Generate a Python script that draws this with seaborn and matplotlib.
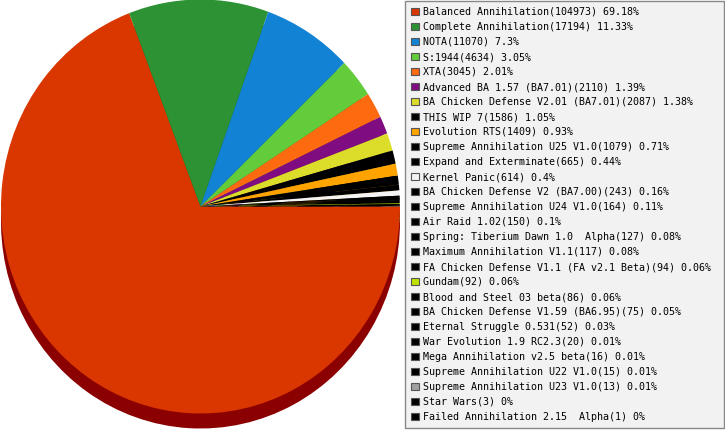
import numpy as np
import matplotlib
matplotlib.use("Agg")
import matplotlib.pyplot as plt
from matplotlib.patches import Patch
import matplotlib.colors as mcolors
import seaborn as sns

names = [
    "Balanced Annihilation", "Complete Annihilation", "NOTA", "S:1944", "XTA",
    "Advanced BA 1.57 (BA7.01)", "BA Chicken Defense V2.01 (BA7.01)", "THIS WIP 7",
    "Evolution RTS", "Supreme Annihilation U25 V1.0", "Expand and Exterminate",
    "Kernel Panic", "BA Chicken Defense V2 (BA7.00)", "Supreme Annihilation U24 V1.0",
    "Air Raid 1.02", "Spring: Tiberium Dawn 1.0  Alpha", "Maximum Annihilation V1.1",
    "FA Chicken Defense V1.1 (FA v2.1 Beta)", "Gundam", "Blood and Steel 03 beta",
    "BA Chicken Defense V1.59 (BA6.95)", "Eternal Struggle 0.531", "War Evolution 1.9 RC2.3",
    "Mega Annihilation v2.5 beta", "Supreme Annihilation U22 V1.0",
    "Supreme Annihilation U23 V1.0", "Star Wars", "Failed Annihilation 2.15  Alpha",
]
counts = [104973, 17194, 11070, 4634, 3045, 2110, 2087, 1586, 1409, 1079, 665, 614,
          243, 164, 150, 127, 117, 94, 92, 86, 75, 52, 20, 16, 15, 13, 3, 1]
pcts = ["69.18", "11.33", "7.3", "3.05", "2.01", "1.39", "1.38", "1.05", "0.93", "0.71",
        "0.44", "0.4", "0.16", "0.11", "0.1", "0.08", "0.08", "0.06", "0.06", "0.06",
        "0.05", "0.03", "0.01", "0.01", "0.01", "0.01", "0", "0"]
colors = ["#d93600", "#2d9234", "#1283d4", "#62cc3a", "#fd6a10", "#7f0c80", "#dcdd2a",
          "#000000", "#ffa300", "#000000", "#000000", "#f4f4f4", "#000000", "#000000",
          "#000000", "#000000", "#000000", "#000000", "#c0e000", "#000000", "#000000",
          "#000000", "#000000", "#000000", "#000000", "#a0a0a0", "#000000", "#000000"]

sns.set_theme(style="white")
plt.rcParams['font.family'] = ['DejaVu Sans Mono']

pal = sns.color_palette(colors)
dark = [tuple(np.array(mcolors.to_rgb(c)) * 0.6) for c in colors]
dark[0] = "#8b0000"

fig = plt.figure(figsize=(7.25, 4.3), dpi=100)
ax = fig.add_axes([0, 0, 400 / 725, 1])

# extruded side first, shifted down, then the top face
ax.pie(counts, colors=dark, startangle=0, counterclock=False, radius=1,
       center=(0, -15 / 207), wedgeprops=dict(linewidth=0))
ax.pie(counts, colors=pal, startangle=0, counterclock=False, radius=1,
       center=(0, 0), wedgeprops=dict(linewidth=0))
ax.set_aspect('auto')
ax.set_xlim(-1.005, 1.0)
ax.set_ylim(-(430 - 206.5) / 207, 206.5 / 207)
ax.axis('off')

labels = [f"{n}({c}) {p}%" for n, c, p in zip(names, counts, pcts)]
handles = [Patch(facecolor=c, edgecolor="#555555", linewidth=0.8) for c in pal]

leg = fig.legend(handles, labels, loc="upper left",
                 bbox_to_anchor=(405 / 725, 0, 319 / 725, 429 / 430), mode="expand",
                 fontsize=7.2, labelspacing=0.5, handlelength=0.8, handleheight=0.8,
                 handletextpad=0.4, borderpad=0.6, borderaxespad=0, fancybox=False,
                 frameon=True, edgecolor="#888888", facecolor="#f2f2f2", framealpha=1,
                 labelcolor="black")
leg.get_frame().set_linewidth(1.0)

fig.savefig("out.png", dpi=100)
